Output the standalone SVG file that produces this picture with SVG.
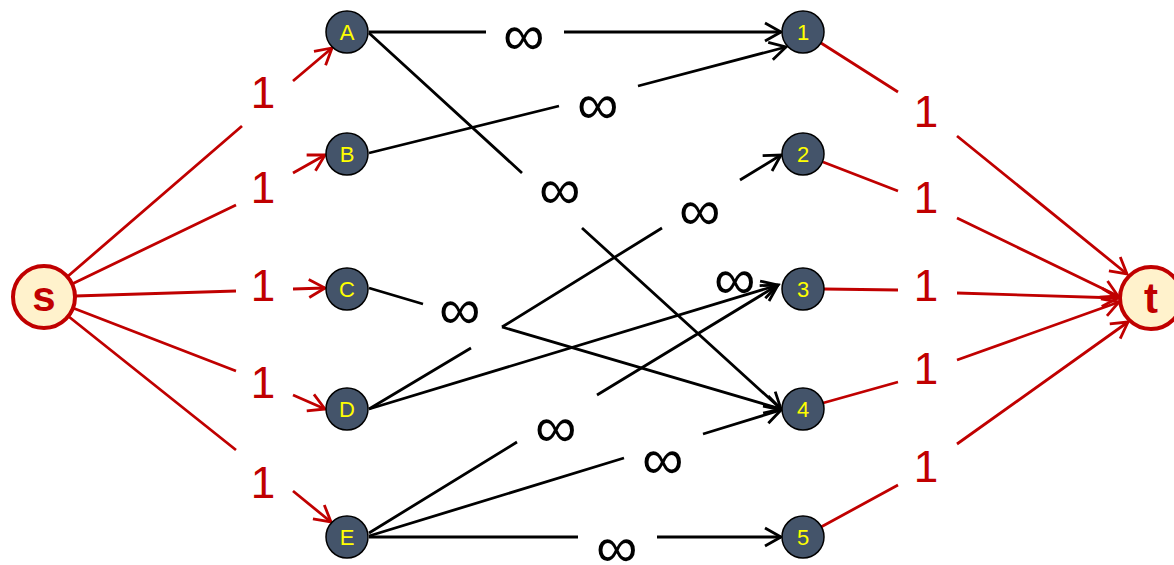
<svg xmlns="http://www.w3.org/2000/svg" width="1174" height="565" viewBox="0 0 1174 565">
<style>
.bg{fill:#ffffff}
.k{fill:none;stroke:#000000;stroke-width:2.8}
.r{fill:none;stroke:#C00000;stroke-width:2.8}
.node{fill:#44546A;stroke:#000000;stroke-width:1.5}
.term{fill:#FFF2CC;stroke:#C00000;stroke-width:4}
.nt{font-family:"Liberation Sans",Arial,sans-serif;font-size:22px;fill:#FFFF00;text-anchor:middle}
.tt{font-family:"Liberation Sans",Arial,sans-serif;font-size:42px;font-weight:bold;fill:#C00000;text-anchor:middle}
.one{font-family:"Liberation Sans",Arial,sans-serif;font-size:44px;fill:#C00000;text-anchor:middle}
.inf{font-family:"Liberation Sans",Arial,sans-serif;font-size:58px;fill:#000000;text-anchor:middle}
</style>
<defs>
<marker id="ak" markerUnits="userSpaceOnUse" orient="auto" overflow="visible" refX="0" refY="0" markerWidth="20" markerHeight="20">
<path d="M-16,-9 L0,0 L-16,9" fill="none" stroke="#000000" stroke-width="2.8"/>
</marker>
<marker id="ar" markerUnits="userSpaceOnUse" orient="auto" overflow="visible" refX="0" refY="0" markerWidth="20" markerHeight="20">
<path d="M-16,-9 L0,0 L-16,9" fill="none" stroke="#C00000" stroke-width="2.8"/>
</marker>
</defs>
<rect class="bg" x="0" y="0" width="1174" height="565"/>
<g id="connectors">
<path id="e-s-A" class="r" marker-end="url(#ar)" d="M67,277 L242,126 M293,81 L332,48"/>
<path id="e-s-B" class="r" marker-end="url(#ar)" d="M72,284 L236,205 M293,173 L325,155"/>
<path id="e-s-C" class="r" marker-end="url(#ar)" d="M75,296 L236,291 M293,289 L325,288"/>
<path id="e-s-D" class="r" marker-end="url(#ar)" d="M73,308 L236,371 M293,395 L325,409"/>
<path id="e-s-E" class="r" marker-end="url(#ar)" d="M68,316 L236,450 M293,491 L331,522"/>
<path id="e-1-t" class="r" marker-end="url(#ar)" d="M821,43 L898,92 M957,136 L1127,274"/>
<path id="e-2-t" class="r" marker-end="url(#ar)" d="M823,162 L898,191 M957,218 L1118,296"/>
<path id="e-3-t" class="r" marker-end="url(#ar)" d="M824,289 L898,290 M957,293 L1118,298"/>
<path id="e-4-t" class="r" marker-end="url(#ar)" d="M823,403 L898,382 M957,360 L1119,302"/>
<path id="e-5-t" class="r" marker-end="url(#ar)" d="M821,527 L898,485 M957,444 L1128,322"/>
<path id="e-A-1" class="k" marker-end="url(#ak)" d="M369,32 L486,32 M564,32 L781,32"/>
<path id="e-B-1" class="k" marker-end="url(#ak)" d="M369,153 L559,106 M638,86 L786,47"/>
<path id="e-A-4" class="k" marker-end="url(#ak)" d="M369,33 L522,173 M582,228 L781,409"/>
<path id="e-D-2" class="k" marker-end="url(#ak)" d="M369,409 L471,348 M502,327 L662,228 M740,180 L781,155"/>
<path id="e-C-4" class="k" marker-end="url(#ak)" d="M369,288 L423,304 M502,327 L781,409"/>
<path id="e-D-3" class="k" marker-end="url(#ak)" d="M369,409 L778,285"/>
<path id="e-E-3" class="k" marker-end="url(#ak)" d="M369,533 L517,442 M597,395 L778,285"/>
<path id="e-E-4" class="k" marker-end="url(#ak)" d="M369,536 L624,458 M703,434 L781,410"/>
<path id="e-E-5" class="k" marker-end="url(#ak)" d="M369,537 L578,537 M657,537 L781,537"/>
<g id="edge-labels">
<text class="one" x="263" y="108">1</text>
<text class="one" x="263" y="203">1</text>
<text class="one" x="263" y="301">1</text>
<text class="one" x="263" y="398">1</text>
<text class="one" x="263" y="498">1</text>
<text class="one" x="926" y="127">1</text>
<text class="one" x="926" y="213">1</text>
<text class="one" x="926" y="301">1</text>
<text class="one" x="926" y="384">1</text>
<text class="one" x="926" y="482">1</text>
<text class="inf" x="524" y="55">∞</text>
<text class="inf" x="598" y="124">∞</text>
<text class="inf" x="560" y="209">∞</text>
<text class="inf" x="700" y="230">∞</text>
<text class="inf" x="735" y="299">∞</text>
<text class="inf" x="460" y="329">∞</text>
<text class="inf" x="556" y="447">∞</text>
<text class="inf" x="663" y="479">∞</text>
<text class="inf" x="617" y="567">∞</text>
</g>
</g>
<g id="node-s"><circle class="term" cx="44" cy="297" r="31"/><text class="tt" x="44" y="311">s</text></g>
<g id="node-t"><circle class="term" cx="1151" cy="298" r="31"/><text class="tt" x="1151" y="313">t</text></g>
<g id="node-A"><circle class="node" cx="347" cy="32" r="21"/><text class="nt" x="347" y="40">A</text></g>
<g id="node-B"><circle class="node" cx="347" cy="154" r="21"/><text class="nt" x="347" y="162">B</text></g>
<g id="node-C"><circle class="node" cx="347" cy="289" r="21"/><text class="nt" x="347" y="297">C</text></g>
<g id="node-D"><circle class="node" cx="347" cy="409" r="21"/><text class="nt" x="347" y="417">D</text></g>
<g id="node-E"><circle class="node" cx="347" cy="537" r="21"/><text class="nt" x="347" y="545">E</text></g>
<g id="node-1"><circle class="node" cx="803" cy="32" r="21"/><text class="nt" x="803" y="40">1</text></g>
<g id="node-2"><circle class="node" cx="803" cy="154" r="21"/><text class="nt" x="803" y="162">2</text></g>
<g id="node-3"><circle class="node" cx="803" cy="289" r="21"/><text class="nt" x="803" y="297">3</text></g>
<g id="node-4"><circle class="node" cx="803" cy="409" r="21"/><text class="nt" x="803" y="417">4</text></g>
<g id="node-5"><circle class="node" cx="803" cy="537" r="21"/><text class="nt" x="803" y="545">5</text></g>
</svg>
